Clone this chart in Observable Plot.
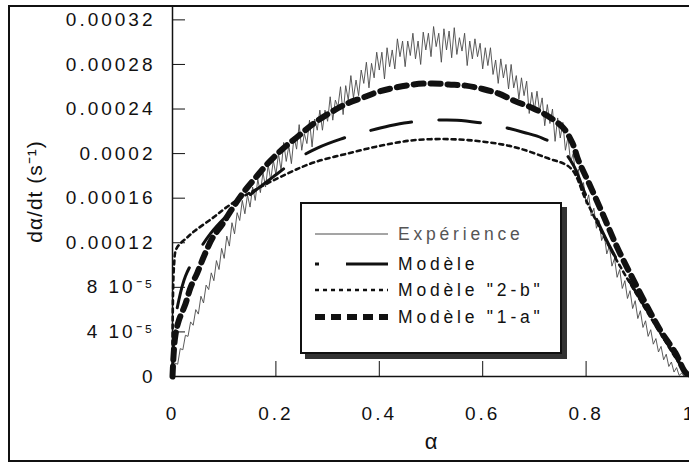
<!DOCTYPE html>
<html>
<head>
<meta charset="utf-8">
<script src="https://cdn.jsdelivr.net/npm/d3@7"></script>
<script src="https://cdn.jsdelivr.net/npm/@observablehq/plot@0.6"></script>
<style>
  html, body { margin: 0; padding: 0; background: #fff; }
  #wrap { position: relative; width: 689px; height: 463px; overflow: hidden; font-family: "Liberation Sans", Arial, Helvetica, sans-serif; }
  #frame { position: absolute; left: 8px; top: 5px; width: 700px; height: 453px; border: 2px solid #111; box-sizing: content-box; pointer-events: none; }
  #chart { position: absolute; left: 0; top: 0; }
  #chart svg { overflow: visible; }
  g[aria-label="y-axis tick label"] text, g[aria-label="x-axis tick label"] text { font-size: 19px; letter-spacing: 3px; fill: #111; }
  g[aria-label="y-axis label"] text { font-size: 21px; letter-spacing: 1px; fill: #111; }
  g[aria-label="x-axis label"] text { font-size: 22px; fill: #111; }
  #legend { position: absolute; left: 300px; top: 202px; width: 258px; height: 148px; border: 2px solid #111; background: #fff; box-shadow: 5px 5px 0 #333; }
  .row { position: absolute; left: 0; height: 24px; display: flex; align-items: center; }
  .row svg { margin-left: 13px; }
  .row span { margin-left: 10px; font-size: 17.5px; letter-spacing: 3.8px; color: #111; white-space: nowrap; }
</style>
</head>
<body>
<div id="wrap">
  <div id="chart"></div>
  <div id="frame"></div>
  <div id="legend"></div>
</div>
<script>
// ---------- data (rates in units of 1e-6 s^-1) ----------
const xTicks = [0, 0.2, 0.4, 0.6, 0.8, 1];
const xTickLabels = ["0", "0.2", "0.4", "0.6", "0.8", "1"];
const yTicks = [0, 40, 80, 120, 160, 200, 240, 280, 320];
const yTickLabels = ["0", "4 10\u207B\u2075", "8 10\u207B\u2075", "0.00012", "0.00016", "0.0002", "0.00024", "0.00028", "0.00032"];

// experimental curve, sampled every 0.005 in alpha starting at 0
const experienceStep = 0.005;
const experienceRate = [
  2, 12, 11, 25, 24, 37, 36, 49, 46, 60,
  56, 72, 66, 82, 78, 93, 86, 104, 96, 115,
  106, 126, 117, 138, 128, 147, 140, 158, 146, 163,
  152, 170, 158, 177, 165, 183, 170, 190, 176, 194,
  181, 200, 185, 210, 193, 207, 191, 215, 204, 226,
  203, 218, 209, 230, 206, 231, 221, 239, 221, 239,
  229, 251, 230, 248, 242, 260, 235, 261, 248, 270,
  250, 266, 252, 275, 263, 282, 259, 281, 268, 291,
  275, 291, 267, 295, 278, 293, 276, 303, 287, 301,
  278, 301, 288, 308, 285, 301, 280, 309, 293, 308,
  287, 314, 296, 308, 282, 312, 293, 310, 286, 313,
  289, 304, 292, 308, 279, 301, 285, 303, 287, 299,
  276, 295, 279, 295, 271, 284, 263, 285, 268, 280,
  258, 280, 259, 270, 249, 268, 252, 265, 236, 255,
  239, 256, 238, 250, 225, 244, 227, 240, 211, 232,
  214, 228, 203, 215, 192, 200, 180, 186, 167, 174,
  155, 163, 144, 151, 133, 140, 122, 128, 110, 117,
  99, 106, 89, 96, 79, 86, 70, 77, 61, 68,
  52, 59, 44, 50, 36, 42, 29, 34, 22, 27,
  15, 20, 9, 13, 4, 8, 1, 3, 0
];

const modeleAlpha = [0, 0.004, 0.012, 0.025, 0.05, 0.073, 0.1, 0.15, 0.2, 0.244, 0.28, 0.325, 0.377, 0.42, 0.456, 0.509, 0.55, 0.59, 0.638, 0.68, 0.715, 0.75, 0.775, 0.8, 0.85, 0.9, 0.95, 0.98, 1.0];
const modeleRate  = [0, 45, 68, 90, 112, 128, 142, 163, 181, 196, 205, 213, 220, 225, 228, 230, 230, 228, 224, 219, 214, 205, 190, 162, 113, 73, 35, 13, 0];

const modele2bAlpha = [0, 0.003, 0.008, 0.029, 0.044, 0.077, 0.108, 0.15, 0.222, 0.273, 0.338, 0.402, 0.466, 0.532, 0.596, 0.66, 0.725, 0.77, 0.8, 0.85, 0.9, 0.95, 0.99, 1.0];
const modele2bRate  = [0, 100, 115, 125, 131, 142, 153, 165, 182, 192, 200, 207, 212, 213, 211, 206, 196, 187, 158, 112, 72, 34, 5, 0];

const modele1aAlpha = [0, 0.005, 0.012, 0.025, 0.035, 0.048, 0.06, 0.077, 0.097, 0.116, 0.137, 0.16, 0.186, 0.215, 0.244, 0.273, 0.306, 0.338, 0.367, 0.402, 0.466, 0.503, 0.534, 0.567, 0.6, 0.63, 0.663, 0.696, 0.725, 0.756, 0.774, 0.785, 0.803, 0.832, 0.86, 0.89, 0.919, 0.944, 0.973, 0.99, 1.0];
const modele1aRate  = [0, 35, 50, 65, 80, 93, 107, 124, 137, 151, 165, 178, 192, 205, 216, 227, 237, 245, 250, 256, 262, 263, 262, 261, 258, 254, 247, 241, 234, 223, 209, 194, 176, 146, 116, 88, 62, 41, 21, 5, 0];

const seriesNames = ["Expérience", "Modèle", "Modèle \"2-b\"", "Modèle \"1-a\""];

// ---------- build tables ----------
const experience = experienceRate.map((v, i) => ({alpha: i * experienceStep, rate: v}));
const modele = modeleAlpha.map((a, i) => ({alpha: a, rate: modeleRate[i]}));
const modele2b = modele2bAlpha.map((a, i) => ({alpha: a, rate: modele2bRate[i]}));
const modele1a = modele1aAlpha.map((a, i) => ({alpha: a, rate: modele1aRate[i]}));

const styles = [
  {stroke: "#4a4a4a", strokeWidth: 0.9, dash: null, curve: "linear"},
  {stroke: "#111", strokeWidth: 3, dash: "42 27", curve: "catmull-rom"},
  {stroke: "#111", strokeWidth: 2.6, dash: "4 4", curve: "catmull-rom"},
  {stroke: "#111", strokeWidth: 6, dash: "10 7", curve: "catmull-rom"}
];
const datasets = [experience, modele, modele2b, modele1a];

const marks = [
  Plot.axisX({
    ticks: xTicks, tickFormat: d => xTickLabels[xTicks.indexOf(d)],
    tickSize: -15, tickPadding: 45, stroke: "#111",
    label: "\u03B1", labelAnchor: "center", labelOffset: 72, labelArrow: "none"
  }),
  Plot.axisY({
    ticks: yTicks, tickFormat: d => yTickLabels[yTicks.indexOf(d)],
    tickSize: -13, tickPadding: 30, stroke: "#111",
    label: "d\u03B1/dt (s\u207B\u00B9)", labelAnchor: "center", labelOffset: 145, labelArrow: "none"
  })
];
datasets.forEach((data, k) => {
  const s = styles[k];
  marks.push(Plot.line(data, {
    x: "alpha", y: "rate", stroke: s.stroke, strokeWidth: s.strokeWidth,
    strokeDasharray: s.dash || undefined, curve: s.curve
  }));
});
marks.push(Plot.ruleX([0], {stroke: "#111", strokeWidth: 1.5}));
marks.push(Plot.ruleY([0], {stroke: "#111", strokeWidth: 1.5}));

const chart = Plot.plot({
  width: 689, height: 463,
  marginLeft: 172, marginRight: 0, marginTop: 6, marginBottom: 87,
  style: {fontFamily: "'Liberation Sans', Arial, Helvetica, sans-serif", background: "transparent"},
  x: {domain: [0, 1]},
  y: {domain: [0, 332]},
  marks
});
document.getElementById("chart").appendChild(chart);

// ---------- legend ----------
const legend = document.getElementById("legend");
const rowTops = [18, 48, 74, 101];
const legendDash = [null, "4 27 42", "4 4", "10 6"];
const legendWidth = [1, 3, 2.6, 6];
seriesNames.forEach((name, k) => {
  const row = document.createElement("div");
  row.className = "row";
  row.style.top = rowTops[k] + "px";
  const ns = "http://www.w3.org/2000/svg";
  const svg = document.createElementNS(ns, "svg");
  svg.setAttribute("width", 73); svg.setAttribute("height", 12);
  const ln = document.createElementNS(ns, "line");
  ln.setAttribute("x1", 0); ln.setAttribute("x2", 73);
  ln.setAttribute("y1", 6); ln.setAttribute("y2", 6);
  ln.setAttribute("stroke", styles[k].stroke);
  ln.setAttribute("stroke-width", legendWidth[k]);
  if (legendDash[k]) ln.setAttribute("stroke-dasharray", legendDash[k]);
  svg.appendChild(ln);
  row.appendChild(svg);
  const t = document.createElement("span");
  t.textContent = name;
  if (k === 0) { t.style.color = "#555"; }
  row.appendChild(t);
  legend.appendChild(row);
});
</script>
</body>
</html>
